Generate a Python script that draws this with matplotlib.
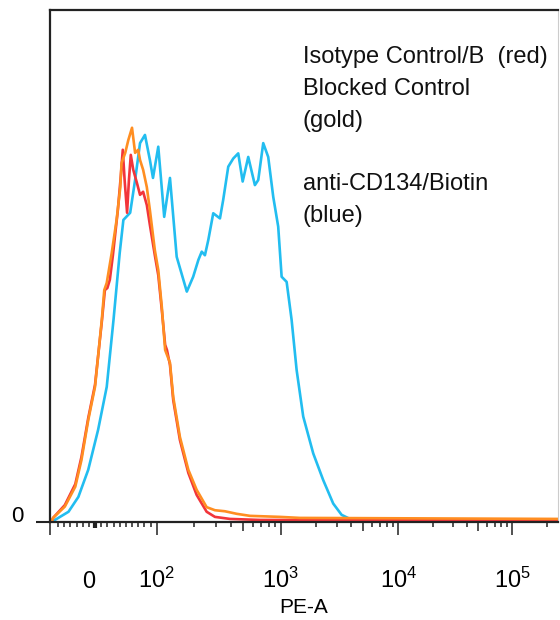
import numpy as np
import matplotlib
matplotlib.use('Agg')
import matplotlib.pyplot as plt
import matplotlib.transforms as mtransforms
from matplotlib.ticker import FixedLocator

plt.rcParams['font.family'] = ['Liberation Sans', 'DejaVu Sans']

# --- data (PE-A value, % of max count) ---
blue_x = [-70, -65, -43, -27, -11, 5, 19, 30, 40, 46, 57, 65, 73, 81, 89, 94,
          103, 115, 128, 145, 175, 197, 217, 231, 245, 261, 286, 324, 344, 378,
          415, 455, 494, 548, 620, 660, 724, 794, 872, 956, 1020, 1125, 1240,
          1368, 1557, 1894, 2302, 2802, 3302, 3885, 10350, 249000]
blue_y = [0.2, 0.4, 2.0, 4.9, 10.2, 18.0, 26.4, 39.5, 52.5, 59.0, 60.4, 66.8,
          74.0, 75.6, 70.7, 67.2, 73.3, 59.6, 67.2, 51.8, 45.0, 47.9, 51.2, 52.8,
          52.1, 55.1, 60.3, 59.3, 62.9, 69.4, 71.0, 72.0, 66.5, 71.3, 65.8, 66.8,
          74.0, 71.3, 63.5, 57.7, 47.9, 46.9, 39.5, 29.7, 20.6, 13.4, 8.2, 3.6,
          1.4, 0.6, 0.4, 0.4]

gold_x = [-70, -68, -49, -32, -22, -11, 0, 11, 15, 19, 27, 35, 41, 43, 49, 54,
          60, 65, 70, 73, 78, 84, 89, 97, 103, 110, 117, 128, 136, 154, 180,
          210, 253, 295, 355, 442, 566, 986, 1459, 249000]
gold_y = [0.2, 0.8, 3.0, 6.9, 12.1, 19.9, 26.4, 39.5, 45.3, 46.7, 52.5, 59.0,
          65.4, 70.1, 72.1, 74.6, 77.0, 72.1, 72.7, 70.7, 68.8, 65.4, 60.9, 53.1,
          49.2, 42.0, 33.6, 31.1, 24.4, 16.6, 10.2, 6.3, 2.9, 2.3, 2.1, 1.6, 1.2,
          1.0, 0.8, 0.6]

red_x = [-70, -68, -49, -32, -22, -11, 0, 11, 16, 20, 24, 29, 37, 42, 45, 48,
         52, 55, 58, 62, 68, 73, 78, 84, 89, 97, 103, 110, 117, 121, 128, 136,
         154, 180, 210, 253, 295, 390, 681, 249000]
red_y = [0.2, 0.8, 3.3, 7.4, 12.7, 20.3, 26.8, 39.1, 45.3, 45.7, 47.3, 52.1,
         60.9, 67.8, 72.7, 66.8, 60.4, 66.8, 71.7, 68.8, 66.2, 63.9, 64.5, 61.9,
         58.0, 52.1, 48.2, 41.4, 34.6, 33.6, 30.7, 23.8, 16.0, 9.6, 5.3, 2.0,
         1.0, 0.6, 0.4, 0.3]

major_ticks = [-73, 0, 100, 1e3, 1e4, 1e5]
major_labels = ['', '0', r'$\mathregular{10^2}$', r'$\mathregular{10^3}$',
                r'$\mathregular{10^4}$', r'$\mathregular{10^5}$']
minor_ticks = ([-60, -50, -40, -30, -20, -10] + list(range(10, 100, 10)) +
               [m * 10 ** e for e in (2, 3, 4) for m in range(2, 10)] + [2e5])
mid_ticks = [500, 5000, 50000]

legend_text = ('Isotype Control/B  (red)\nBlocked Control\n(gold)\n\n'
               'anti-CD134/Biotin\n(blue)')

# biexponential-like display: linear below 100, log decades above
DEC = [2, 3, 4, 5, 6]
POS = [156.7, 280.7, 398.3, 512.7, 627.1]

def fwd(x):
    x = np.asarray(x, dtype=float)
    lin = 95 + 0.617 * x
    lg = np.interp(np.log10(np.maximum(x, 100)), DEC, POS)
    return np.where(x <= 100, lin, lg)

def inv(p):
    p = np.asarray(p, dtype=float)
    lin = (p - 95) / 0.617
    lg = 10 ** np.interp(np.maximum(p, 156.7), POS, DEC)
    return np.where(p <= 156.7, lin, lg)


fig = plt.figure(figsize=(5.6, 6.2), dpi=100)
ax = fig.add_axes([50 / 560, 98 / 620, 508 / 560, 512 / 620])
ax.set_xscale('function', functions=(fwd, inv))

ax.plot(blue_x, blue_y, color='#22BDF0', lw=1.9)
ax.plot(red_x, red_y, color='#F2353A', lw=1.9)
ax.plot(gold_x, gold_y, color='#FF8E22', lw=1.9)

ax.set_xlim(-73, 2.5e5)
ax.set_ylim(0, 100)

ax.xaxis.set_major_locator(FixedLocator(major_ticks))
ax.xaxis.set_minor_locator(FixedLocator(minor_ticks))
ax.set_xticklabels(major_labels, va='baseline', fontsize=17)
ax.tick_params(axis='x', which='major', direction='out', length=9.5,
               width=1.1, pad=38, color='#222222')
ax.tick_params(axis='x', which='minor', direction='out', length=3.8,
               width=1.1, color='#222222')

# medium ticks at 5 x 10^n, short thick mark at zero
minor_locs = list(ax.xaxis.get_minorticklocs())
for t, loc in zip(ax.xaxis.get_minor_ticks(len(minor_locs)), minor_locs):
    if loc in mid_ticks:
        t.tick1line.set_markersize(6.8)
zero_tick = ax.xaxis.get_major_ticks()[1]
zero_tick.tick1line.set_markersize(4.5)
zero_tick.tick1line.set_markeredgewidth(3)
zero_lab = zero_tick.label1
zero_lab.set_transform(zero_lab.get_transform() +
                       mtransforms.ScaledTranslation(-6 / 100, 0, fig.dpi_scale_trans))

ax.set_yticks([0])
ax.set_yticklabels(['0'], va='baseline', fontsize=16)
ax.tick_params(axis='y', direction='out', length=10, width=1.5,
               pad=9, color='#222222')

ax.set_xlabel('PE-A', fontsize=15, labelpad=3.5)

for side in ['left', 'bottom', 'top']:
    ax.spines[side].set_linewidth(1.6)
    ax.spines[side].set_color('#222222')
ax.spines['right'].set_linewidth(0.8)
ax.spines['right'].set_color('#cccccc')

fig.text(303 / 560, 1 - 46 / 620, legend_text, fontsize=17, va='top',
         ha='left', linespacing=1.58, color='#111111')

fig.savefig('out.png', dpi=100)
